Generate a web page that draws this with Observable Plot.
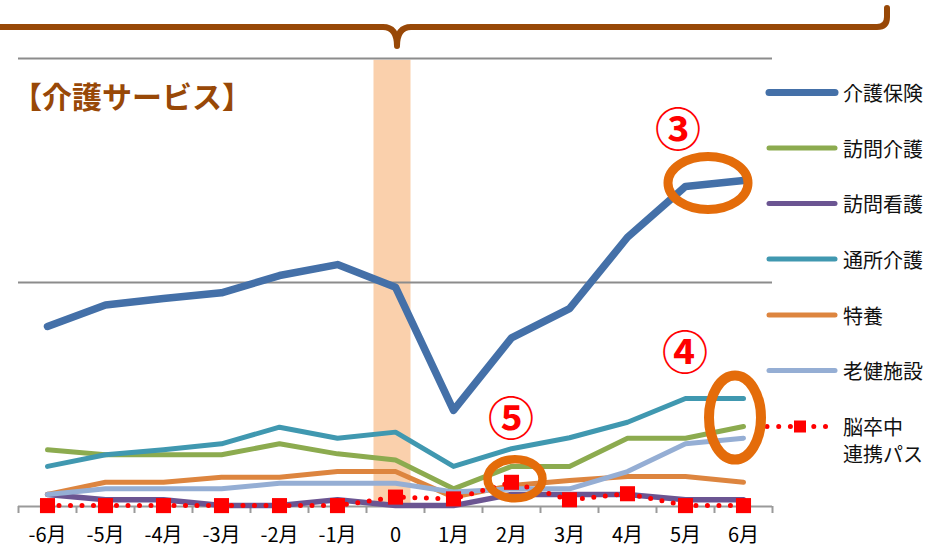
<!DOCTYPE html>
<html>
<head>
<meta charset="utf-8">
<script src="https://cdn.jsdelivr.net/npm/d3@7"></script>
<script src="https://cdn.jsdelivr.net/npm/@observablehq/plot@0.6"></script>
<style>
  html, body { margin: 0; padding: 0; background: #fff; }
  #wrap { position: relative; width: 930px; height: 549px; overflow: hidden; font-family: "Noto Sans CJK JP", "Noto Sans", sans-serif; }
  #wrap > svg { position: absolute; left: 0; top: 0; }
  #overlay { pointer-events: none; }
</style>
</head>
<body>
<div id="wrap"></div>
<script>
// ---- data ----
const months = ["-6月","-5月","-4月","-3月","-2月","-1月","0","1月","2月","3月","4月","5月","6月"];
const kaigoHoken  = [80.4, 90.0, 92.9, 95.4, 103.1, 108.0, 97.9, 42.9, 75.3, 88.3, 120.2, 142.9, 145.5];
const houmonKaigo = [25.3, 23.1, 23.1, 23.1, 28.0, 23.5, 20.8, 7.9, 17.9, 17.9, 30.5, 30.5, 35.7];
const houmonKango = [5.4, 3.0, 3.0, 0.4, 0.4, 3.0, 0.4, 0.4, 5.4, 5.4, 5.4, 3.0, 3.0];
const tsushoKaigo = [17.9, 23.1, 25.3, 28.0, 35.4, 30.5, 33.2, 17.9, 25.8, 30.7, 37.6, 48.2, 48.2];
const tokuyo      = [5.4, 10.8, 10.8, 13.1, 13.1, 15.6, 15.6, 4.2, 9.4, 11.6, 13.4, 13.4, 10.8];
const rokenShisetsu = [5.4, 7.9, 7.9, 7.9, 10.4, 10.4, 10.4, 6.5, 7.9, 7.9, 15.6, 28.0, 30.5];
const strokePath  = [0.4, 0.4, 0.4, 0.4, 0.4, 0.4, 4.2, 3.4, 10.8, 3.0, 5.7, 0.4, 0.4];
const seriesNames = ["介護保険","訪問介護","訪問看護","通所介護","特養","老健施設"];
const pathName = ["脳卒中","連携パス"];
const title = "【介護サービス】";
const eventMonth = "0";

// ---- styles ----
const W = 930, H = 549;
const mL = 18, mR = 158, mT = 58, mB = 43;
const step = (W - mL - mR) / months.length;
const seriesStyle = [
  {values: kaigoHoken,    color: "#4470a8", width: 7.5},
  {values: houmonKaigo,   color: "#8cab4f", width: 5},
  {values: houmonKango,   color: "#6b5592", width: 5.5},
  {values: tsushoKaigo,   color: "#4098b0", width: 5},
  {values: tokuyo,        color: "#dd853f", width: 5},
  {values: rokenShisetsu, color: "#95aed4", width: 5}
];
const RED = "#ff0000", BROWN = "#984807", RING = "#e46c0a", GRID = "#8c8c8c";

const rows = (vals) => months.map((m, i) => ({month: m, value: vals[i]}));

const marks = [
  Plot.ruleX([eventMonth], {x: d => d, y1: 0, y2: 199.2, stroke: "#fad0ac", strokeWidth: 37, dx: -3.5}),
  Plot.ruleY([100, 200], {stroke: GRID, strokeWidth: 2}),
  Plot.ruleY([0], {stroke: "#9a9a9a", strokeWidth: 2}),
  Plot.ruleX(months, {x: d => d, y1: 0, y2: 0, insetBottom: -7, dx: -step / 2, stroke: "#9a9a9a", strokeWidth: 2}),
  Plot.ruleX([months[months.length - 1]], {x: d => d, y1: 0, y2: 0, insetBottom: -7, dx: step / 2, stroke: "#9a9a9a", strokeWidth: 2}),
  Plot.axisX({tickSize: 0, tickPadding: 21, label: null, fill: "#000"})
];
seriesStyle.forEach(s => {
  marks.push(Plot.line(rows(s.values), {x: "month", y: "value", stroke: s.color, strokeWidth: s.width, strokeLinecap: "round", strokeLinejoin: "round"}));
});
marks.push(Plot.line(rows(strokePath), {x: "month", y: "value", stroke: RED, strokeWidth: 5, strokeDasharray: "0 11.5", strokeLinecap: "round"}));
marks.push(Plot.dot(rows(strokePath), {x: "month", y: "value", symbol: "square", r: 8.5, fill: RED, stroke: "none"}));

const plot = Plot.plot({
  width: W, height: H,
  marginLeft: mL, marginRight: mR, marginTop: mT, marginBottom: mB,
  x: {type: "point", domain: months, padding: 0.5, axis: null, label: null},
  y: {domain: [0, 200], axis: null},
  style: {background: "transparent", overflow: "visible", fontSize: "20px", fontFamily: "Noto Sans CJK JP", color: "#000"},
  marks
});
const wrap = document.getElementById("wrap");
wrap.appendChild(plot);

// ---- overlay: brace, title, legend, annotations ----
const xs = plot.scale("x"), ys = plot.scale("y");
const X = v => xs.apply(v), Y = v => ys.apply(v);
const svg = d3.select(wrap).append("svg").attr("id", "overlay").attr("width", W).attr("height", H);

// brace
svg.append("path")
  .attr("d", "M0,27 H383 Q397,27 397,46 Q397,27 411,27 H877 Q887,27 887,17 V8")
  .attr("fill", "none").attr("stroke", BROWN).attr("stroke-width", 6).attr("stroke-linecap", "round").attr("stroke-linejoin", "round");

// title
svg.append("text").attr("x", 12).attr("y", 95).attr("dominant-baseline", "central")
  .attr("font-size", 30).attr("font-weight", "bold").attr("fill", BROWN)
  .attr("font-family", "Noto Sans CJK JP").text(title);

// legend
const legY = [92.5, 148, 203.5, 259, 315, 370.5];
seriesStyle.forEach((s, i) => {
  svg.append("line").attr("x1", 769).attr("x2", 835).attr("y1", legY[i]).attr("y2", legY[i])
    .attr("stroke", s.color).attr("stroke-width", i === 0 ? 7 : 5).attr("stroke-linecap", "round");
  svg.append("text").attr("x", 843).attr("y", legY[i]).attr("dominant-baseline", "central")
    .attr("font-size", 20).attr("fill", "#111").attr("font-family", "Noto Sans CJK JP").text(seriesNames[i]);
});
const ry = 426.5;
svg.append("line").attr("x1", 767).attr("x2", 826).attr("y1", ry).attr("y2", ry)
  .attr("stroke", RED).attr("stroke-width", 5).attr("stroke-dasharray", "0 11.7").attr("stroke-linecap", "round");
svg.append("rect").attr("x", 794).attr("y", ry - 6).attr("width", 12).attr("height", 12).attr("fill", RED);
svg.append("text").attr("x", 843).attr("y", ry).attr("dominant-baseline", "central")
  .attr("font-size", 20).attr("fill", "#111").attr("font-family", "Noto Sans CJK JP").text(pathName[0]);
svg.append("text").attr("x", 843).attr("y", ry + 27).attr("dominant-baseline", "central")
  .attr("font-size", 20).attr("fill", "#111").attr("font-family", "Noto Sans CJK JP").text(pathName[1]);

// annotations anchored to data
const ring = (cx, cy, rx, rY, w) => svg.append("ellipse").attr("cx", cx).attr("cy", cy).attr("rx", rx).attr("ry", rY)
  .attr("fill", "none").attr("stroke", RING).attr("stroke-width", w);
const label = (x, y, t) => svg.append("text").attr("x", x).attr("y", y).attr("text-anchor", "middle").attr("dominant-baseline", "central")
  .attr("font-size", 46).attr("font-weight", "bold").attr("fill", RED).attr("font-family", "Noto Sans CJK JP").text(t);

const e3x = (X("5月") + X("6月")) / 2 - 6, e3y = Y((kaigoHoken[11] + kaigoHoken[12]) / 2);
ring(e3x, e3y, 40, 26.5, 9);
label(e3x - 30, e3y - 57, "③");

const e4x = X("6月") - 8, e4y = Y((tsushoKaigo[12] + houmonKaigo[12] + rokenShisetsu[12]) / 3) - 3;
ring(e4x, e4y, 26, 42, 10);
label(e4x - 50, e4y - 69, "④");

const e5x = X("2月") + 4, e5y = Y(strokePath[8]) - 3;
ring(e5x, e5y, 27.5, 19.5, 8.5);
label(X("2月"), e5y - 64, "⑤");
</script>
</body>
</html>
